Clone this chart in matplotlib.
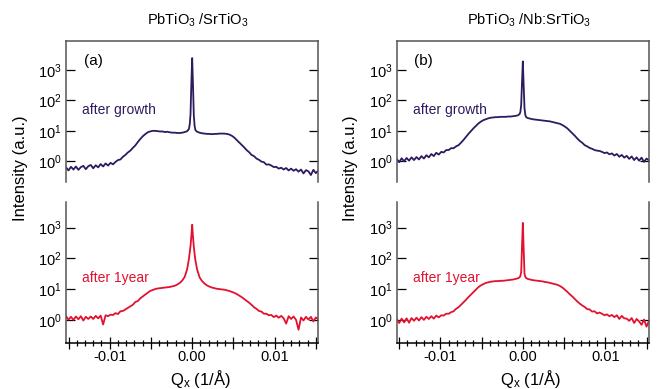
import numpy as np
import matplotlib
matplotlib.use('Agg')
import matplotlib.pyplot as plt
from matplotlib.ticker import MultipleLocator, FixedLocator, FuncFormatter, NullLocator

plt.rcParams['font.family'] = ['Liberation Sans', 'DejaVu Sans']
plt.rcParams['mathtext.fontset'] = 'custom'
plt.rcParams['mathtext.rm'] = 'Liberation Sans'
plt.rcParams['mathtext.it'] = 'Liberation Sans:italic'
plt.rcParams['mathtext.bf'] = 'Liberation Sans:bold'

# Qx sample positions in units of 1e-4 1/A
qx_e4 = [-153, -150, -147, -144, -141, -138, -135, -132, -129, -126,
         -123, -120, -117, -114, -111, -108, -105, -102, -99, -96,
         -93, -90, -87, -84, -81, -78, -75, -72, -69, -66,
         -63, -60, -57, -54, -51, -48, -45, -42, -39, -36,
         -33, -30, -27, -24, -21, -18, -15, -12, -9, -6,
         -4, -3, -2, -1, 0, 1, 2, 3, 4,
         6, 9, 12, 15, 18, 21, 24, 27, 30, 33,
         36, 39, 42, 45, 48, 51, 54, 57, 60, 63,
         66, 69, 72, 75, 78, 81, 84, 87, 90, 93,
         96, 99, 102, 105, 108, 111, 114, 117, 120, 123,
         126, 129, 132, 135, 138, 141, 144, 147, 150, 153]

# log10 of intensity
# (a) PbTiO3/SrTiO3 after growth
sto_growth = [-0.20, -0.30, -0.18, -0.27, -0.17, -0.28, -0.19, -0.15, -0.26, -0.16,
              -0.12, -0.23, -0.13, -0.20, -0.09, -0.17, -0.07, -0.14, -0.05, -0.10,
              -0.02, 0.04, 0.06, 0.15, 0.21, 0.29, 0.35, 0.44, 0.52, 0.63,
              0.73, 0.82, 0.89, 0.95, 0.98, 1.00, 1.00, 0.99, 0.98, 0.98,
              0.96, 0.97, 0.95, 0.94, 0.94, 0.93, 0.93, 0.94, 0.96, 0.99,
              1.06, 1.20, 1.55, 2.55, 3.39, 2.50, 1.50, 1.15, 1.02,
              0.97, 0.94, 0.92, 0.91, 0.90, 0.90, 0.89, 0.90, 0.90, 0.91,
              0.91, 0.91, 0.90, 0.88, 0.84, 0.78, 0.70, 0.62, 0.54, 0.46,
              0.37, 0.30, 0.21, 0.17, 0.09, 0.05, -0.01, -0.03, -0.11, -0.10,
              -0.14, -0.19, -0.18, -0.24, -0.21, -0.27, -0.22, -0.30, -0.24, -0.31,
              -0.26, -0.34, -0.27, -0.40, -0.29, -0.33, -0.45, -0.28, -0.39, -0.30]

# (a) PbTiO3/SrTiO3 after 1 year
sto_1year = [0.12, 0.01, 0.10, 0.00, 0.11, 0.02, 0.12, -0.02, 0.10, 0.03,
             0.11, 0.03, 0.13, 0.05, 0.14, -0.15, 0.15, 0.12, 0.17, 0.16,
             0.22, 0.19, 0.28, 0.29, 0.34, 0.39, 0.44, 0.49, 0.58, 0.61,
             0.70, 0.76, 0.82, 0.88, 0.94, 0.97, 1.00, 1.02, 1.03, 1.04,
             1.05, 1.06, 1.07, 1.09, 1.11, 1.15, 1.20, 1.28, 1.40, 1.66,
             1.97, 2.18, 2.40, 2.72, 3.09, 2.70, 2.37, 2.13, 1.92,
             1.64, 1.38, 1.26, 1.18, 1.12, 1.08, 1.05, 1.03, 1.01, 1.00,
             0.99, 0.98, 0.96, 0.94, 0.91, 0.88, 0.84, 0.79, 0.74, 0.68,
             0.62, 0.56, 0.49, 0.41, 0.36, 0.29, 0.27, 0.20, 0.20, 0.15,
             0.16, 0.09, 0.14, 0.07, 0.13, 0.05, -0.12, 0.12, 0.03, 0.11,
             0.00, -0.32, 0.08, -0.02, 0.10, 0.01, 0.10, -0.05, 0.08, 0.02]

# (b) PbTiO3/Nb:SrTiO3 after growth
nb_growth = [0.08, -0.03, 0.10, 0.00, 0.11, 0.02, 0.13, 0.04, 0.14, 0.06,
             0.17, 0.09, 0.20, 0.13, 0.24, 0.17, 0.28, 0.22, 0.31, 0.29,
             0.37, 0.37, 0.43, 0.43, 0.49, 0.53, 0.61, 0.70, 0.80, 0.90,
             0.99, 1.08, 1.16, 1.24, 1.30, 1.35, 1.38, 1.41, 1.43, 1.44,
             1.45, 1.45, 1.46, 1.46, 1.46, 1.47, 1.47, 1.48, 1.49, 1.51,
             1.55, 1.62, 1.85, 2.60, 3.28, 2.50, 1.75, 1.52, 1.45,
             1.42, 1.40, 1.38, 1.37, 1.36, 1.35, 1.34, 1.33, 1.32, 1.31,
             1.29, 1.27, 1.25, 1.23, 1.19, 1.14, 1.08, 1.00, 0.92, 0.84,
             0.75, 0.67, 0.61, 0.53, 0.49, 0.44, 0.41, 0.37, 0.35, 0.34,
             0.31, 0.27, 0.29, 0.23, 0.26, 0.19, 0.24, 0.15, 0.21, 0.12,
             0.18, 0.08, 0.16, 0.04, 0.13, 0.02, 0.12, -0.02, 0.09, 0.03]

# (b) PbTiO3/Nb:SrTiO3 after 1 year
nb_1year = [0.03, -0.10, 0.04, -0.08, 0.05, -0.09, 0.06, -0.03, 0.07, -0.02,
            0.09, 0.00, 0.10, 0.03, 0.12, 0.04, 0.14, 0.08, 0.15, 0.14,
            0.20, 0.20, 0.25, 0.28, 0.36, 0.41, 0.49, 0.57, 0.65, 0.74,
            0.82, 0.90, 0.98, 1.06, 1.12, 1.16, 1.20, 1.22, 1.24, 1.25,
            1.26, 1.26, 1.27, 1.27, 1.28, 1.29, 1.30, 1.31, 1.33, 1.35,
            1.38, 1.43, 1.55, 2.40, 3.15, 2.30, 1.50, 1.40, 1.36,
            1.33, 1.31, 1.29, 1.28, 1.27, 1.26, 1.25, 1.23, 1.22, 1.20,
            1.18, 1.16, 1.14, 1.10, 1.05, 0.98, 0.91, 0.83, 0.76, 0.68,
            0.60, 0.53, 0.47, 0.42, 0.35, 0.34, 0.27, 0.28, 0.21, 0.24,
            0.20, 0.15, 0.18, 0.12, 0.16, 0.09, 0.15, 0.03, 0.13, 0.05,
            0.04, -0.03, 0.06, -0.10, 0.03, -0.05, -0.16, 0.01, -0.22, -0.03]

titles = ['PbTiO$_3$ /SrTiO$_3$', 'PbTiO$_3$ /Nb:SrTiO$_3$']
panel_tags = ['(a)', '(b)']
top_text = 'after growth'
bottom_text = 'after 1year'

navy = '#2e1b5f'
red = '#e2112f'
spine_col = '#555555'

qx = np.array(qx_e4) * 1e-4


def x_label(v, pos):
    n = v / 0.01
    if abs(n - round(n)) < 1e-6:
        return '%.2f' % v if abs(v) > 1e-9 else '0.00'
    return ''


fig = plt.figure(figsize=(6.57, 3.89), dpi=100)

lefts = [0.1005, 0.6038]
w = 0.384
h = 0.3625
series = [(sto_growth, sto_1year), (nb_growth, nb_1year)]

for i, left in enumerate(lefts):
    ax_t = fig.add_axes([left, 0.5321, w, h])
    ax_b = fig.add_axes([left, 0.1183, w, h])
    grow, year = series[i]

    ax_t.plot(qx, 10 ** np.array(grow), color=navy, lw=1.3)
    ax_b.plot(qx, 10 ** np.array(year), color=red, lw=1.3)

    for ax in (ax_t, ax_b):
        ax.set_yscale('log')
        ax.set_xlim(-0.0153, 0.0153)
        ax.yaxis.set_major_locator(FixedLocator([1, 10, 100, 1000]))
        ax.yaxis.set_minor_locator(NullLocator())
        ax.tick_params(axis='y', which='both', direction='in', length=6.5, width=0.9,
                       right=True, labelsize=10.5, pad=3)
        for s in ax.spines.values():
            s.set_color(spine_col)
            s.set_linewidth(1.1)

    ax_t.set_ylim(10 ** -0.68, 10 ** 3.95)
    ax_b.set_ylim(10 ** -0.75, 10 ** 3.83)

    ax_t.spines['bottom'].set_visible(False)
    ax_t.tick_params(axis='x', which='both', bottom=False, labelbottom=False)
    ax_b.spines['top'].set_visible(False)
    ax_b.spines['bottom'].set_color('black')

    ax_b.xaxis.set_major_locator(MultipleLocator(0.005))
    ax_b.xaxis.set_minor_locator(MultipleLocator(0.001))
    ax_b.xaxis.set_major_formatter(FuncFormatter(x_label))
    ax_b.tick_params(axis='x', which='major', direction='inout', length=8, width=0.9,
                     labelsize=10.5, pad=1)
    ax_b.tick_params(axis='x', which='minor', direction='inout', length=4, width=0.9)

    ax_t.text(0.07, 0.86, panel_tags[i], transform=ax_t.transAxes, fontsize=11,
              ha='left', va='center')
    ax_t.text(0.065, 0.51, top_text, transform=ax_t.transAxes, fontsize=10,
              color=navy, ha='left', va='center')
    ax_b.text(0.065, 0.46, bottom_text, transform=ax_b.transAxes, fontsize=10,
              color=red, ha='left', va='center')

    cx = left + w / 2
    fig.text(cx + 0.009, 0.948, titles[i], fontsize=10.5, ha='center', va='center')
    fig.text(cx + 0.012, 0.026, 'Q$_{\\mathrm{x}}$ (1/Å)', fontsize=12, ha='center', va='center')
    fig.text(left - 0.07, 0.568, 'Intensity (a.u.)', fontsize=12, rotation=90,
             ha='center', va='center')

fig.savefig('out.png', dpi=100)
